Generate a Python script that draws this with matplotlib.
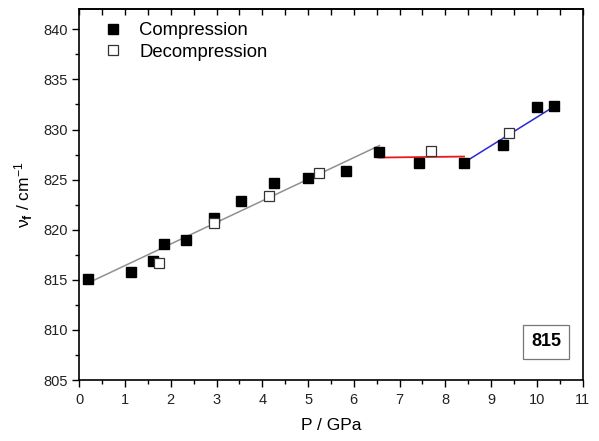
import matplotlib
matplotlib.use("Agg")
import matplotlib.pyplot as plt
from matplotlib.ticker import MultipleLocator

plt.rcParams['font.family'] = ['Liberation Sans', 'DejaVu Sans']
plt.rcParams['mathtext.fontset'] = 'custom'
plt.rcParams['mathtext.rm'] = 'Liberation Sans'
plt.rcParams['mathtext.it'] = 'Liberation Sans:italic'
plt.rcParams['mathtext.bf'] = 'Liberation Sans:bold'

comp_p = [0.20, 1.14, 1.61, 1.86, 2.34, 2.94, 3.53, 4.26, 4.99, 5.83, 6.56, 7.42, 8.41, 9.27, 10.01, 10.38]
comp_v = [815.1, 815.8, 816.9, 818.6, 819.0, 821.2, 822.9, 824.7, 825.2, 825.9, 827.8, 826.7, 826.7, 828.5, 832.2, 832.35]
decomp_p = [1.74, 2.95, 4.14, 5.23, 7.68, 9.39]
decomp_v = [816.7, 820.7, 823.4, 825.7, 827.9, 829.7]

fit1_p = [0.20, 6.56]
fit1_v = [814.7, 828.4]
fit2_p = [6.54, 8.41]
fit2_v = [827.2, 827.3]
fit3_p = [8.41, 10.45]
fit3_v = [826.7, 832.5]

fig = plt.figure(figsize=(5.99, 4.41), dpi=100)
ax = fig.add_axes([0.1324, 0.1383, 0.9725 - 0.1324, 0.979 - 0.1383])

ax.plot(fit1_p, fit1_v, color='#909090', lw=1.1, zorder=2)
ax.plot(fit2_p, fit2_v, color='#e8191e', lw=1.3, zorder=2)
ax.plot(fit3_p, fit3_v, color='#2a2ad0', lw=1.1, zorder=2)

ax.plot(comp_p, comp_v, 's', color='black', ms=7, ls='none', label='Compression', zorder=3)
ax.plot(decomp_p, decomp_v, 's', mfc='white', mec='#333333', mew=0.9, ms=7, ls='none',
        label='Decompression', zorder=3)

ax.set_xlim(0, 11)
ax.set_ylim(805, 842)
ax.xaxis.set_major_locator(MultipleLocator(1))
ax.xaxis.set_minor_locator(MultipleLocator(0.5))
ax.yaxis.set_major_locator(MultipleLocator(5))
ax.yaxis.set_minor_locator(MultipleLocator(2.5))
ax.tick_params(which='both', direction='out', top=False, right=False, labelsize=10.5,
               width=1.0, labelcolor='#222222')
ax.tick_params(which='major', length=5)
ax.tick_params(which='minor', length=3)
ax.tick_params(axis='x', pad=4)

# top ticks pointing inward
sec = ax.secondary_xaxis('top')
sec.xaxis.set_major_locator(MultipleLocator(0.5))
sec.tick_params(direction='in', length=4, width=1.0, labeltop=False)

for s in ax.spines.values():
    s.set_linewidth(1.2)
sec.spines['top'].set_linewidth(1.2)

ax.set_xlabel('P / GPa', fontsize=12.5, labelpad=8)
ax.set_ylabel('ν$_\\mathbf{f}$ / cm$^{-1}$', fontsize=12.5, labelpad=6)

leg = ax.legend(loc='upper left', frameon=False, fontsize=13.3, handletextpad=0.8,
                borderaxespad=0.3, labelspacing=0.25, handlelength=1.2,
                bbox_to_anchor=(0.02, 1.0))

ax.text(10.2, 808.8, '815', fontsize=13, fontweight='bold', ha='center', va='center',
        bbox=dict(boxstyle='square,pad=0.45', fc='white', ec='#777777', lw=0.9))

fig.savefig('out.png', dpi=100)
